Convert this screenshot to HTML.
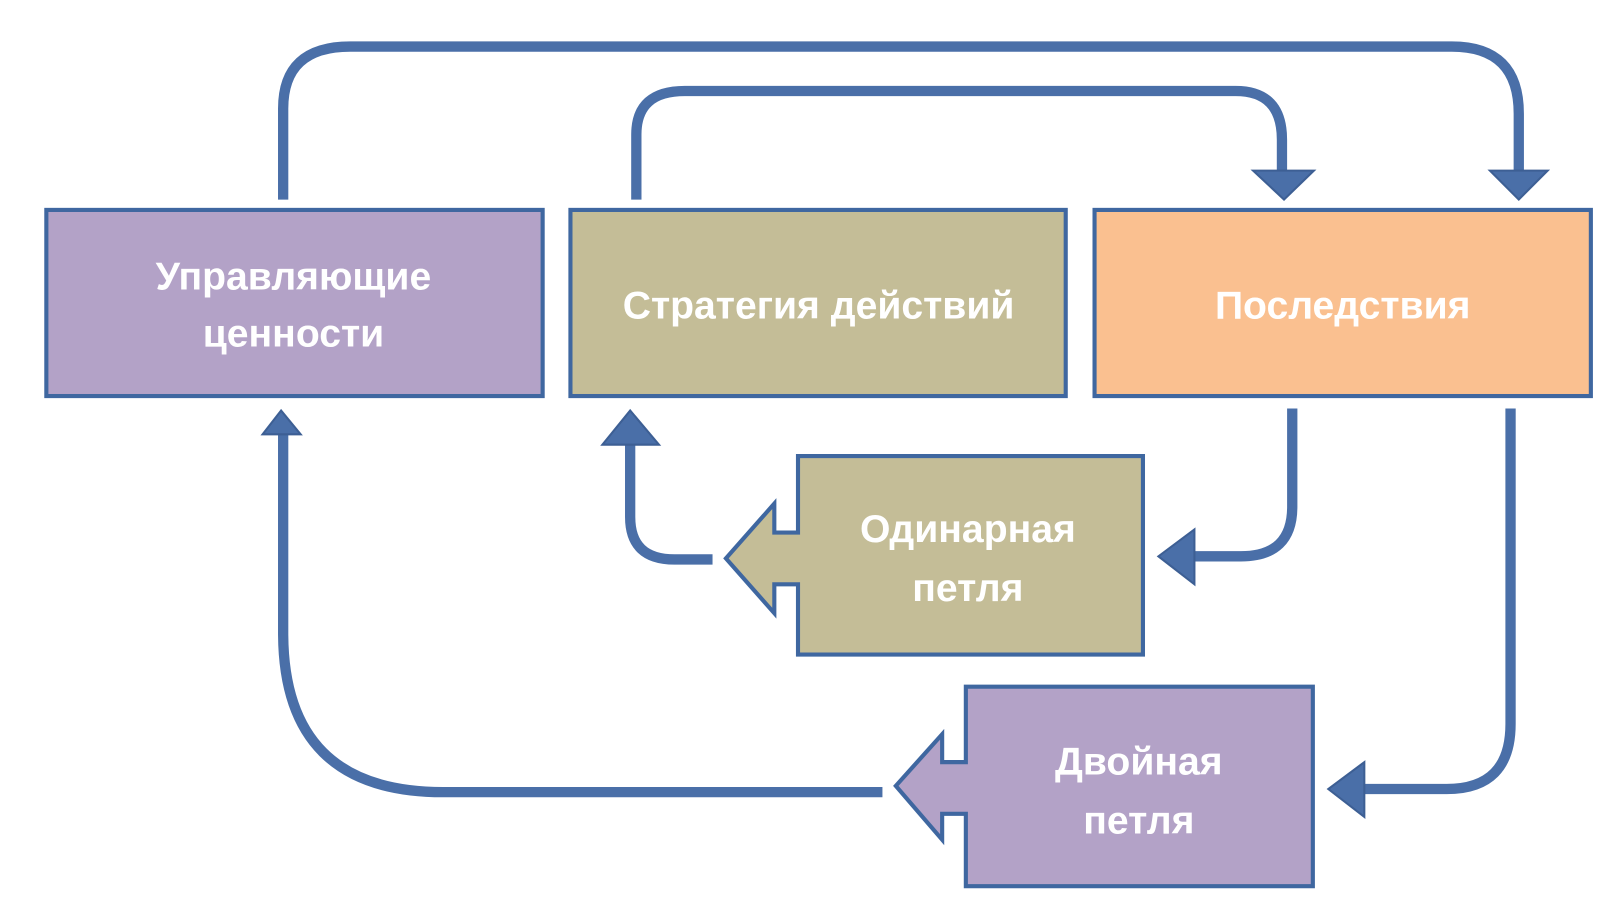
<!DOCTYPE html>
<html><head><meta charset="utf-8"><style>
html,body{margin:0;padding:0;background:#fff;}
svg{display:block}
text{font-family:"Liberation Sans","DejaVu Sans",sans-serif;fill:#fff;font-size:38px;font-weight:bold;text-anchor:middle}
</style></head><body>
<svg width="1616" height="910" viewBox="0 0 1560 880" preserveAspectRatio="none" xmlns="http://www.w3.org/2000/svg">
<g transform="scale(0.994 1)">
<g fill="none" stroke="#4a6fa8" stroke-width="10">
<path d="M275 193 V105 Q275 45 340 45 H1410 Q1475 45 1475 110 V168"/>
<path d="M618 193 V130 Q618 88 665 88 H1200 Q1245 88 1245 135 V168"/>
<path d="M1255 395 V490 Q1255 538 1205 538 H1158"/>
<path d="M692 541 H655 Q612 541 612 500 V428"/>
<path d="M1467 395 V700 Q1467 763 1405 763 H1323"/>
<path d="M857 766 H430 Q275 766 275 612 V420"/>
</g>
<g fill="#4a6fa8" stroke="#3d5f94" stroke-width="2">
<polygon points="1447,165 1503,165 1475,193"/>
<polygon points="1217,165 1276,165 1247,193"/>
<polygon points="1160,512 1160,565 1125,538"/>
<polygon points="585,430 640,430 612,397"/>
<polygon points="1325,737 1325,790 1290,763"/>
<polygon points="255,420 292,420 273,397"/>
</g>
<g stroke="#3f67a0" stroke-width="4">
<rect x="45" y="203" width="482" height="180" fill="#b3a2c7"/>
<rect x="554" y="203" width="481" height="180" fill="#c4bd97"/>
<rect x="1063" y="203" width="482" height="180" fill="#fac090"/>
<polygon points="775,441 1110,441 1110,633 775,633 775,565 752,565 752,593 705,540 752,487 752,515 775,515" fill="#c4bd97"/>
<polygon points="938,664 1275,664 1275,857 938,857 938,787 915,787 915,812 870,760 915,710 915,737 938,737" fill="#b3a2c7"/>
</g>
<text x="285" y="280">Управляющие</text>
<text x="285" y="335">ценности</text>
<text x="795" y="308">Стратегия действий</text>
<text x="1304" y="308">Последствия</text>
<text x="940" y="524">Одинарная</text>
<text x="940" y="581">петля</text>
<text x="1106" y="749">Двойная</text>
<text x="1106" y="806">петля</text>
</g>
</svg>
</body></html>
